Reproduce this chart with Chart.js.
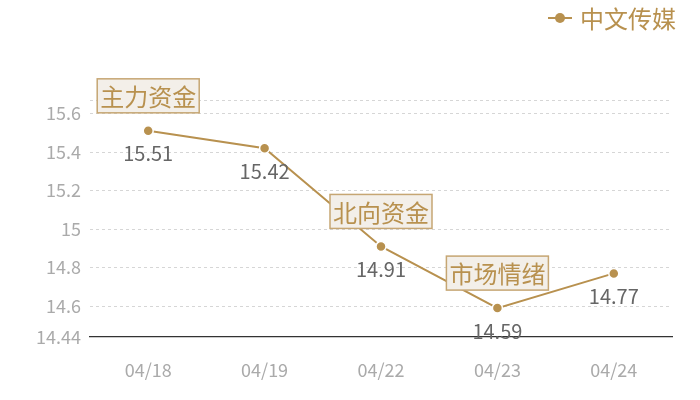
<!DOCTYPE html>
<html><head><meta charset="utf-8">
<script src="https://cdn.jsdelivr.net/npm/chart.js@4"></script>
<style>html,body{margin:0;padding:0;background:#fff;}#wrap{width:700px;height:400px;}</style>
</head><body><div id="wrap"><canvas id="c"></canvas></div>
<script>
const categories = ['04/18','04/19','04/22','04/23','04/24'];
const seriesName = '中文传媒';
const values = [15.51, 15.42, 14.91, 14.59, 14.77];
const annotations = ['主力资金', '', '北向资金', '市场情绪', ''];
const yTicks = [14.44, 14.6, 14.8, 15, 15.2, 15.4, 15.6];
const yMin = 14.44, yMax = 15.67;

const GOLD = '#b8914f';
const FONT = '"Noto Sans CJK SC", "Noto Sans", sans-serif';

const labelPlugin = {
  id: 'labels',
  afterDatasetsDraw(chart) {
    const ctx = chart.ctx;
    const meta = chart.getDatasetMeta(0);
    ctx.save();
    meta.data.forEach((pt, i) => {
      ctx.font = '20px ' + FONT;
      ctx.fillStyle = '#666';
      ctx.textAlign = 'center';
      ctx.textBaseline = 'middle';
      ctx.fillText(String(values[i]), pt.x, pt.y + 23);
      const t = annotations[i];
      if (t) {
        ctx.font = '24px ' + FONT;
        const w = ctx.measureText(t).width + 6;
        const h = 34;
        const bx = pt.x - w / 2, by = pt.y - 18 - h;
        ctx.fillStyle = '#f3efe9';
        ctx.fillRect(bx, by, w, h);
        ctx.strokeStyle = '#c6a673';
        ctx.lineWidth = 1.5;
        ctx.strokeRect(bx, by, w, h);
        ctx.fillStyle = GOLD;
        ctx.fillText(t, pt.x, by + h / 2 + 1);
      }
    });
    // legend
    const lx = 548, ly = 18;
    ctx.strokeStyle = GOLD;
    ctx.lineWidth = 2;
    ctx.beginPath(); ctx.moveTo(lx, ly); ctx.lineTo(lx + 24, ly); ctx.stroke();
    ctx.fillStyle = GOLD;
    ctx.beginPath(); ctx.arc(lx + 12, ly, 5, 0, Math.PI * 2); ctx.fill();
    ctx.font = '24px ' + FONT;
    ctx.textAlign = 'left';
    ctx.textBaseline = 'middle';
    ctx.fillText(seriesName, lx + 32, ly + 1);
    ctx.restore();
  }
};

new Chart(document.getElementById('c'), {
  type: 'line',
  data: {
    labels: categories,
    datasets: [{
      label: seriesName,
      data: values,
      borderColor: GOLD,
      backgroundColor: GOLD,
      borderWidth: 2,
      pointRadius: 5,
      pointHoverRadius: 5,
      pointBackgroundColor: GOLD,
      pointBorderColor: '#fff',
      pointBorderWidth: 1.5,
      tension: 0
    }]
  },
  options: {
    responsive: true,
    maintainAspectRatio: false,
    animation: false,
    layout: { padding: { left: 0, right: 28, top: 100, bottom: 0 } },
    plugins: {
      legend: { display: false },
      tooltip: { enabled: false }
    },
    scales: {
      x: {
        offset: true,
        afterFit(axis) { axis.height = 63; },
        grid: { display: false, drawTicks: false },
        border: { display: true, color: '#333', width: 1.2 },
        ticks: { color: '#aaa', font: { size: 18, family: FONT }, padding: 22 }
      },
      y: {
        min: yMin, max: yMax,
        afterFit(axis) { axis.width = 90; },
        afterBuildTicks(axis) { axis.ticks = yTicks.concat([yMax]).map(v => ({ value: v })); },
        grid: {
          color: ctx => ctx.tick && ctx.tick.value === yMin ? 'rgba(0,0,0,0)' : '#d6d6d6',
          drawTicks: false
        },
        border: { display: false, dash: [3, 3] },
        ticks: {
          color: '#aaa',
          font: { size: 18, family: FONT },
          padding: 9,
          callback: v => v === yMax ? '' : String(v)
        }
      }
    }
  },
  plugins: [labelPlugin]
});
</script></body></html>
